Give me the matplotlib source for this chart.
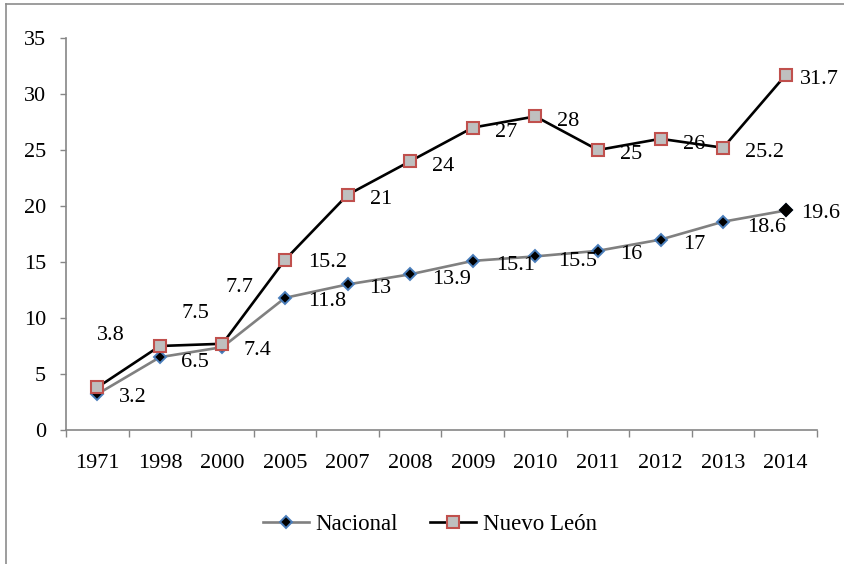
import matplotlib
matplotlib.use("Agg")
import matplotlib.pyplot as plt
from matplotlib.lines import Line2D

plt.rcParams['font.family'] = ['Liberation Serif', 'DejaVu Serif']

years = ["1971", "1998", "2000", "2005", "2007", "2008", "2009", "2010",
         "2011", "2012", "2013", "2014"]
nacional = [3.2, 6.5, 7.4, 11.8, 13, 13.9, 15.1, 15.5, 16, 17, 18.6, 19.6]
nuevo_leon = [3.8, 7.5, 7.7, 15.2, 21, 24, 27, 28, 25, 26, 25.2, 31.7]
nacional_labels = ["3.2", "6.5", "7.4", "11.8", "13", "13.9", "15.1", "15.5",
                   "16", "17", "18.6", "19.6"]
nuevo_leon_labels = ["3.8", "7.5", "7.7", "15.2", "21", "24", "27", "28",
                     "25", "26", "25.2", "31.7"]

# label offsets in pixels (dx to text left, dy of text visual centre; +down)
nac_off = [(22, 1), (21, 2), (21, 1), (23, 1), (21, 1), (22, 2), (23, 2),
           (23, 2), (22, 1), (23, 2), (24, 3), (15, 0)]
nl_off = [(0, -55), (22, -35), (3, -59), (23, 0), (22, 2), (22, 2), (22, 2),
          (22, 2), (22, 2), (22, 3), (22, 2), (14, 2)]

W, H, DPI = 844, 564, 100
fig = plt.figure(figsize=(W / DPI, H / DPI), dpi=DPI)
ax = fig.add_axes([66 / W, 1 - 430 / H, (817 - 66) / W, (430 - 38) / H])

x = list(range(len(years)))
ax.plot(x, nacional, color='#808080', lw=1.9, marker='D', ms=6,
        mfc='black', mec='#4A7EBB', mew=1.4, zorder=3)
ax.plot(x[-1:], nacional[-1:], ls='none', marker='D', ms=6.5,
        mfc='black', mec='black', mew=1.4, zorder=3.5)
ax.plot(x, nuevo_leon, color='black', lw=1.9, marker='s', ms=9,
        mfc='#BFBFBF', mec='#C0504D', mew=1.5, zorder=4)

ax.set_xlim(-0.5, len(years) - 0.5)
ax.set_ylim(0, 35)
ax.set_yticks(range(0, 36, 5))
ax.set_xticks(x)
ax.set_xticklabels(years)
ax.set_xticks([i - 0.5 for i in range(len(years) + 1)], minor=True)

for s in ['top', 'right']:
    ax.spines[s].set_visible(False)
for s in ['left', 'bottom']:
    ax.spines[s].set_color('#868686')
    ax.spines[s].set_linewidth(1.2)

ax.tick_params(axis='y', direction='out', length=4.3, width=1.0,
               color='#868686', labelsize=16, pad=10)
ax.tick_params(axis='x', which='major', length=0, labelsize=16, pad=17.5)
ax.tick_params(axis='x', which='minor', direction='out', length=5,
               width=1.0, color='#868686')

digit_half = 7.3
for i in x:
    dx, dy = nac_off[i]
    ax.annotate(nacional_labels[i], (i, nacional[i]), xytext=(dx, -(dy + digit_half)),
                textcoords='offset pixels', ha='left', va='baseline',
                fontsize=16, zorder=5)
    dx, dy = nl_off[i]
    ax.annotate(nuevo_leon_labels[i], (i, nuevo_leon[i]), xytext=(dx, -(dy + digit_half)),
                textcoords='offset pixels', ha='left', va='baseline',
                fontsize=16, zorder=5)

h1 = Line2D([], [], color='#808080', lw=1.9, marker='D', ms=6,
            mfc='black', mec='#4A7EBB', mew=1.4)
h2 = Line2D([], [], color='black', lw=1.9, marker='s', ms=9,
            mfc='#BFBFBF', mec='#C0504D', mew=1.5)
fig.legend([h1, h2], ["Nacional", "Nuevo León"], loc='center',
           bbox_to_anchor=(430 / W, 1 - 524 / H), ncol=2, frameon=False,
           fontsize=16.5, handlelength=2.0, handletextpad=0.3,
           columnspacing=1.4, numpoints=1)

# outer frame (top and left edges of chart area)
fig.add_artist(Line2D([6 / W, 1], [1 - 4 / H, 1 - 4 / H], color='#8c8c8c',
                      lw=1.2, transform=fig.transFigure))
fig.add_artist(Line2D([6 / W, 6 / W], [0, 1 - 4 / H], color='#8c8c8c',
                      lw=1.2, transform=fig.transFigure))

fig.savefig("out.png", dpi=DPI)
